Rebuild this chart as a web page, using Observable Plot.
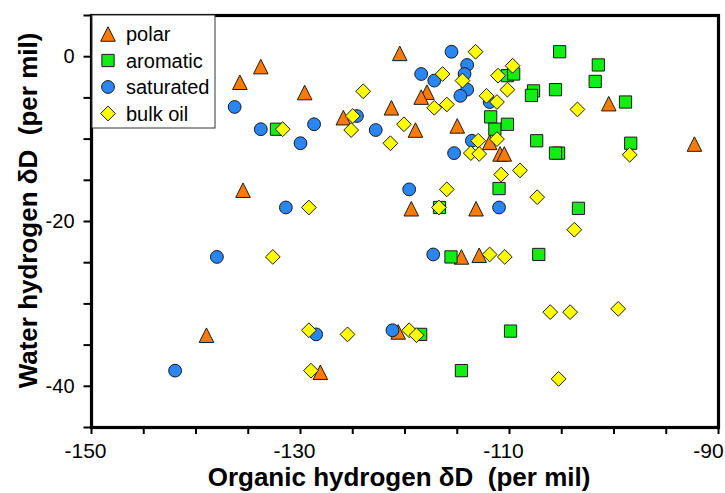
<!DOCTYPE html>
<html>
<head>
<meta charset="utf-8">
<script src="https://cdn.jsdelivr.net/npm/d3@7"></script>
<script src="https://cdn.jsdelivr.net/npm/@observablehq/plot@0.6"></script>
<style>
  body { margin: 0; background: #fff; }
  #chart svg { font-family: "Liberation Sans", Arial, sans-serif; }
</style>
</head>
<body>
<div id="chart"></div>
<script>
const categories = ["polar", "aromatic", "saturated", "bulk oil"];
const colors = ["#ff7b00", "#11ee11", "#2a85f5", "#ffff00"];

const polarX = [-133.8, -135.8, -135.5, -139.0, -120.5, -129.6, -117.9, -118.45, -121.3, -125.9, -119.0, -115.0, -111.9, -110.9, -110.5, -113.2, -119.4, -114.6, -112.9, -120.65, -128.1, -100.5, -92.3];
const polarY = [-1.2, -3.1, -16.2, -33.8, 0.4, -4.35, -4.3, -4.9, -6.2, -7.4, -8.9, -8.4, -10.4, -11.8, -11.8, -18.45, -18.45, -24.3, -24.1, -33.4, -38.3, -5.7, -10.6];

const aromaticX = [-132.3, -111.8, -111.4, -110.2, -110.2, -109.6, -111.0, -116.7, -115.6, -118.5, -109.9, -114.6, -107.2, -105.2, -101.5, -101.8, -107.7, -107.9, -105.6, -98.9, -107.4, -105.3, -105.6, -98.4, -103.4];
const aromaticY = [-8.8, -7.3, -8.8, -8.2, -2.3, -2.1, -16.0, -18.3, -24.3, -33.7, -33.3, -38.1, -24.0, 0.6, -1.0, -3.0, -4.15, -4.7, -4.0, -5.5, -10.2, -11.7, -11.7, -10.5, -18.4];

const saturatedX = [-136.3, -133.8, -130.0, -131.4, -138.0, -142.0, -115.55, -114.05, -118.45, -114.3, -117.2, -114.05, -114.7, -111.9, -124.6, -128.7, -122.8, -113.6, -115.3, -119.6, -111.0, -117.3, -128.5, -121.2];
const saturatedY = [-6.1, -8.8, -10.5, -18.3, -24.3, -38.1, 0.6, -1.0, -2.1, -2.1, -2.9, -4.0, -4.75, -5.5, -7.2, -8.2, -8.9, -10.2, -11.7, -16.1, -18.3, -24.0, -33.7, -33.2];

const bulkX = [-131.7, -132.65, -113.25, -116.4, -114.5, -124.0, -117.2, -116.0, -112.2, -111.2, -111.1, -109.7, -110.2, -125.0, -125.15, -120.1, -121.4, -113.0, -111.2, -113.7, -112.9, -110.8, -116.0, -116.75, -129.2, -111.9, -110.45, -129.2, -125.5, -119.6, -118.9, -129.0, -103.8, -106.1, -104.2, -99.6, -105.3, -103.5, -98.5, -109.0, -107.35];
const bulkY = [-8.8, -24.3, 0.6, -2.1, -2.9, -4.2, -6.2, -5.8, -4.75, -5.5, -2.3, -1.1, -4.0, -7.2, -8.9, -8.2, -10.5, -10.2, -10.0, -11.7, -11.8, -14.3, -16.1, -18.3, -18.3, -24.0, -24.3, -33.2, -33.7, -33.2, -33.8, -38.1, -21.0, -31.0, -31.0, -30.6, -39.1, -6.4, -11.9, -13.8, -17.05];

const xTicks = d3.range(-150, -89, 5);
const yTicks = d3.range(-45, 6, 5);
const xLabelTicks = [-150, -130, -110];
const xLastTick = [-90];
const yLabelTicks = [0, -20, -40];
const xTitle = "Organic hydrogen \u03B4D  (per mil)";
const yTitle = "Water hydrogen \u03B4D  (per mil)";

// custom symbols (size = area)
const triSym = {draw(ctx, size) { const s = Math.sqrt(2 * size); ctx.moveTo(0, -s / 2); ctx.lineTo(s / 2, s / 2); ctx.lineTo(-s / 2, s / 2); ctx.closePath(); }};
const diaSym = {draw(ctx, size) { const r = Math.sqrt(size / 2); ctx.moveTo(0, -r); ctx.lineTo(r, 0); ctx.lineTo(0, r); ctx.lineTo(-r, 0); ctx.closePath(); }};
const symbols = [triSym, d3.symbolSquare, d3.symbolCircle, diaSym];
const radii = [5.8, 6.9, 6.4, 5.9];

const series = [
  {x: polarX, y: polarY},
  {x: aromaticX, y: aromaticY},
  {x: saturatedX, y: saturatedY},
  {x: bulkX, y: bulkY}
].map((s, i) => s.x.map((x, j) => ({x, y: s.y[j], cat: categories[i]})));

const dotMarks = series.map((data, i) => Plot.dot(data, {
  x: "x", y: "y", symbol: () => symbols[i], r: radii[i],
  fill: colors[i], stroke: "#1a1a1a", strokeWidth: 1
}));

const chart = Plot.plot({
  width: 725, height: 493,
  marginLeft: 91, marginRight: 7, marginTop: 15, marginBottom: 66,
  x: {domain: [-150, -90]},
  y: {domain: [-45, 5]},
  symbol: {type: "identity"},
  marks: [
    ...dotMarks,
    Plot.frame({stroke: "#000", strokeWidth: 3.2}),
    Plot.axisX({ticks: xTicks, tickSize: 7, strokeWidth: 2, strokeOpacity: 1, tickFormat: () => "", label: null}),
    Plot.axisX({ticks: xLabelTicks, tickSize: 0, tickPadding: 16, fontSize: 21, dx: -6, label: null, tickFormat: d => String(d)}),
    Plot.axisX({ticks: xLastTick, tickSize: 0, tickPadding: 16, fontSize: 21, dx: -10, label: null, tickFormat: d => String(d)}),
    Plot.axisY({ticks: yTicks, tickSize: 7.5, tickPadding: 9.5, strokeWidth: 2, strokeOpacity: 1, fontSize: 20, label: null,
      tickFormat: d => yLabelTicks.includes(d) ? String(d) : ""}),
    Plot.text([xTitle], {frameAnchor: "bottom", textAnchor: "middle", lineAnchor: "middle", dy: 50, dx: -6, fontSize: 26, fontWeight: "bold", fill: "#000"}),
    Plot.text([yTitle], {frameAnchor: "left", textAnchor: "middle", lineAnchor: "middle", dx: -63, dy: -11, rotate: -90, fontSize: 26, fontWeight: "bold", fill: "#000"})
  ]
});
document.getElementById("chart").appendChild(chart);

const svg = d3.select(chart);
// make sure the frame is drawn heavy like the reference
svg.selectAll('[aria-label="frame"], [aria-label="frame"] rect')
  .attr("stroke", "#000").attr("stroke-width", 3.2).attr("stroke-opacity", 1);

// legend box drawn inside the svg (top-left corner of plot)
const lg = svg.append("g").attr("transform", "translate(92,15)");
lg.append("rect").attr("width", 123).attr("height", 113).attr("fill", "#fff").attr("stroke", "#333").attr("stroke-width", 1);
categories.forEach((c, i) => {
  const row = lg.append("g").attr("transform", `translate(16,${19 + i * 26.5})`);
  row.append("path").attr("d", d3.symbol(symbols[i], Math.PI * radii[i] * radii[i])())
    .attr("fill", colors[i]).attr("stroke", "#1a1a1a").attr("stroke-width", 1);
  row.append("text").attr("x", 18).attr("dy", "0.35em").attr("text-anchor", "start")
    .attr("font-size", 20).attr("fill", "#000").text(c);
});
</script>
</body>
</html>
